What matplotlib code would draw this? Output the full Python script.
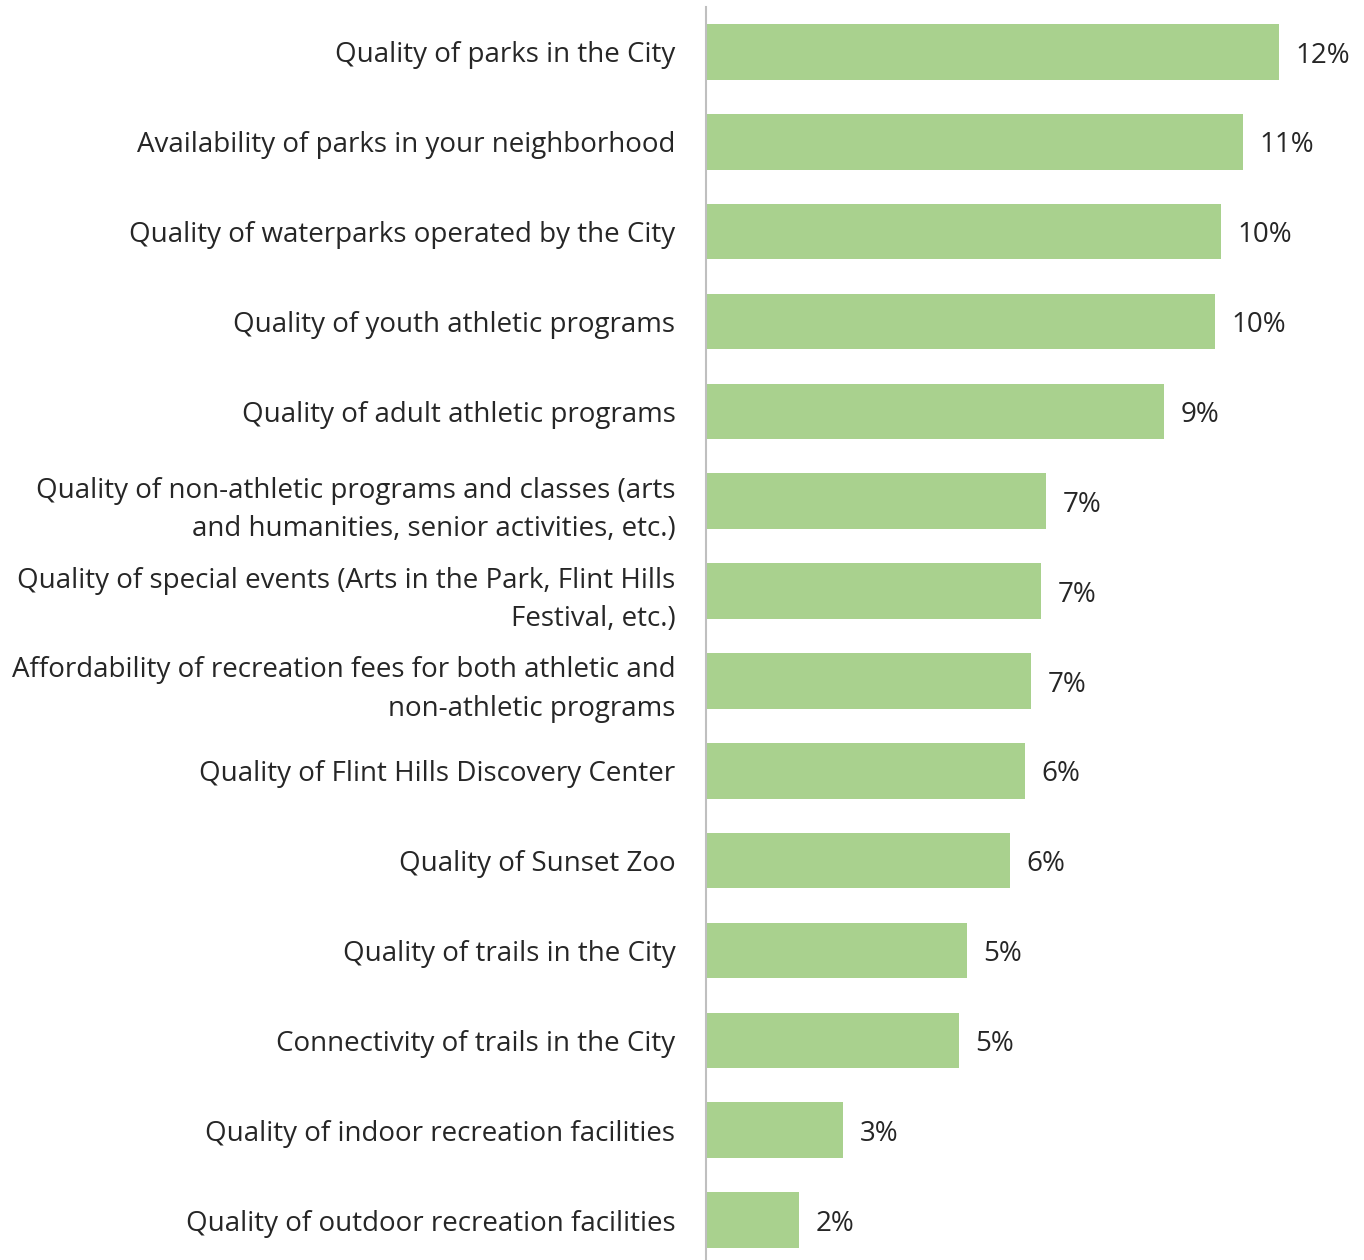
import numpy as np
import matplotlib.pyplot as plt

categories = [
    "Quality of parks in the City",
    "Availability of parks in your neighborhood",
    "Quality of waterparks operated by the City",
    "Quality of youth athletic programs",
    "Quality of adult athletic programs",
    "Quality of non-athletic programs and classes (arts\nand humanities, senior activities, etc.)",
    "Quality of special events (Arts in the Park, Flint Hills\nFestival, etc.)",
    "Affordability of recreation fees for both athletic and\nnon-athletic programs",
    "Quality of Flint Hills Discovery Center",
    "Quality of Sunset Zoo",
    "Quality of trails in the City",
    "Connectivity of trails in the City",
    "Quality of indoor recreation facilities",
    "Quality of outdoor recreation facilities",
]
values = [11.58, 10.85, 10.40, 10.28, 9.25, 6.87, 6.77, 6.57, 6.44, 6.14, 5.27, 5.11, 2.77, 1.88]

plt.rcParams['font.family'] = ['Open Sans', 'DejaVu Sans']

fig = plt.figure(figsize=(13.64, 12.6), dpi=100)
ax = fig.add_axes([706 / 1364, -5 / 1260, 1 - 706 / 1364, 1258 / 1260])

y = np.arange(len(categories))
ax.barh(y, values, height=0.62, color='#A9D18E')
for yi, v in zip(y, values):
    ax.text(v + 0.33, yi + 0.04, f"{v:.0f}%", va='center', ha='left', fontsize=20,
            color='#262626')

ax.set_ylim(len(categories) - 0.5, -0.5)
ax.set_xlim(0, 13.29)
ax.set_yticks(y)
ax.set_yticklabels(categories, fontsize=20, color='#262626', linespacing=1.5)
ax.tick_params(axis='y', length=0, pad=22)
ax.set_xticks([])
for s in ['top', 'right', 'bottom']:
    ax.spines[s].set_visible(False)
ax.spines['left'].set_color('#BFBFBF')
ax.spines['left'].set_linewidth(1.5)

fig.savefig('out.png', dpi=100)
